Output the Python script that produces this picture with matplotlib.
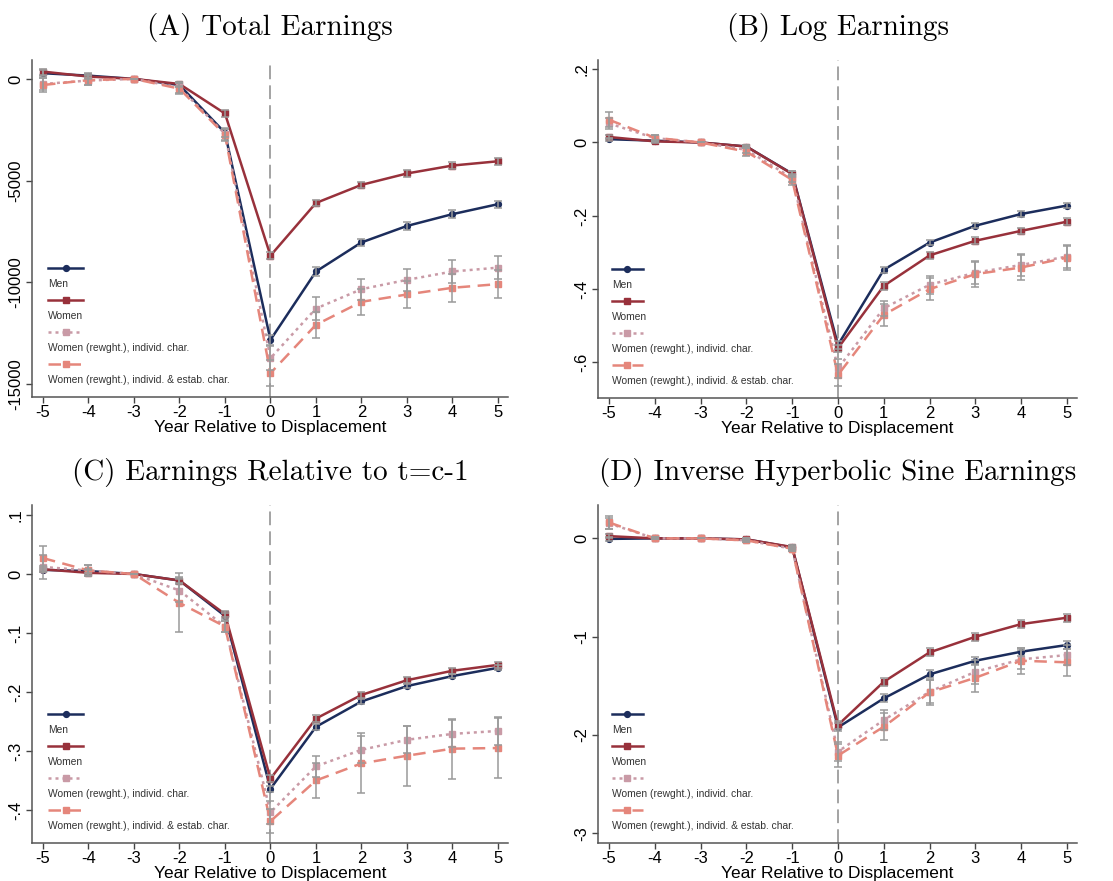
import matplotlib
matplotlib.use('Agg')
import matplotlib.pyplot as plt

# event time
years = [-5, -4, -3, -2, -1, 0, 1, 2, 3, 4, 5]

# (A) Total Earnings
a_men = [280, 160, 0, -300, -2650, -12830, -9470, -8040, -7230, -6650, -6160]
a_women = [360, 115, 0, -250, -1700, -8690, -6100, -5210, -4650, -4260, -4050]
a_indiv = [-250, -80, 0, -420, -2700, -13730, -11290, -10340, -9880, -9470, -9280]
a_estab = [-300, -60, 0, -480, -2750, -14470, -12090, -10960, -10600, -10270, -10090]
a_men_ci = [150, 120, 0, 120, 200, 230, 200, 180, 180, 180, 180]
a_women_ci = [150, 120, 0, 120, 150, 180, 160, 150, 160, 160, 180]
a_indiv_ci = [300, 200, 0, 250, 300, 600, 550, 520, 550, 560, 560]
a_estab_ci = [350, 250, 0, 280, 300, 650, 650, 650, 660, 680, 690]

# (B) Log Earnings
b_men = [0.009, 0.005, 0, -0.011, -0.085, -0.552, -0.347, -0.273, -0.227, -0.195, -0.172]
b_women = [0.015, 0.003, 0, -0.011, -0.086, -0.561, -0.391, -0.308, -0.268, -0.241, -0.216]
b_indiv = [0.052, 0.012, 0, -0.020, -0.097, -0.616, -0.452, -0.388, -0.355, -0.334, -0.311]
b_estab = [0.062, 0.013, 0, -0.025, -0.102, -0.634, -0.470, -0.400, -0.359, -0.341, -0.314]
b_men_ci = [0.004, 0.003, 0, 0.004, 0.006, 0.010, 0.008, 0.007, 0.007, 0.007, 0.007]
b_women_ci = [0.005, 0.004, 0, 0.005, 0.007, 0.010, 0.010, 0.009, 0.009, 0.009, 0.009]
b_indiv_ci = [0.015, 0.008, 0, 0.010, 0.012, 0.025, 0.020, 0.025, 0.030, 0.030, 0.030]
b_estab_ci = [0.020, 0.008, 0, 0.012, 0.014, 0.030, 0.030, 0.030, 0.035, 0.035, 0.035]

# (C) Earnings Relative to t=c-1
c_men = [0.007, 0.005, 0, -0.011, -0.071, -0.364, -0.259, -0.216, -0.190, -0.173, -0.159]
c_women = [0.008, 0.002, 0, -0.011, -0.068, -0.347, -0.245, -0.205, -0.180, -0.164, -0.154]
c_indiv = [0.012, 0.006, 0, -0.028, -0.089, -0.404, -0.326, -0.298, -0.281, -0.271, -0.266]
c_estab = [0.027, 0.006, 0, -0.049, -0.089, -0.419, -0.350, -0.321, -0.308, -0.296, -0.295]
c_men_ci = [0.004, 0.003, 0, 0.004, 0.005, 0.005, 0.005, 0.004, 0.004, 0.004, 0.004]
c_women_ci = [0.005, 0.004, 0, 0.006, 0.005, 0.006, 0.006, 0.005, 0.005, 0.005, 0.005]
c_indiv_ci = [0.020, 0.010, 0, 0.020, 0.010, 0.020, 0.018, 0.023, 0.023, 0.023, 0.023]
c_estab_ci = [0.020, 0.010, 0, 0.050, 0.010, 0.020, 0.030, 0.051, 0.051, 0.051, 0.051]

# (D) Inverse Hyperbolic Sine Earnings
d_men = [-0.005, 0, 0, -0.010, -0.092, -1.923, -1.628, -1.384, -1.245, -1.153, -1.085]
d_women = [0.023, 0, 0, -0.010, -0.088, -1.899, -1.459, -1.160, -1.001, -0.872, -0.807]
d_indiv = [0.152, 0, 0, -0.020, -0.105, -2.170, -1.848, -1.560, -1.357, -1.231, -1.187]
d_estab = [0.162, 0, 0, -0.020, -0.105, -2.210, -1.916, -1.567, -1.418, -1.245, -1.261]
d_men_ci = [0.020, 0.010, 0, 0.010, 0.020, 0.040, 0.040, 0.040, 0.040, 0.040, 0.040]
d_women_ci = [0.020, 0.010, 0, 0.010, 0.020, 0.040, 0.040, 0.040, 0.040, 0.040, 0.040]
d_indiv_ci = [0.060, 0.010, 0, 0.015, 0.020, 0.100, 0.100, 0.120, 0.120, 0.100, 0.100]
d_estab_ci = [0.070, 0.010, 0, 0.015, 0.020, 0.120, 0.140, 0.130, 0.140, 0.130, 0.140]

titles = ['(A) Total Earnings', '(B) Log Earnings',
          '(C) Earnings Relative to t=c-1', '(D) Inverse Hyperbolic Sine Earnings']
labels = ['Men', 'Women', 'Women (rewght.), individ. char.',
          'Women (rewght.), individ. & estab. char.']
yticks = [[0, -5000, -10000, -15000], [0.2, 0, -0.2, -0.4, -0.6],
          [0.1, 0, -0.1, -0.2, -0.3, -0.4], [0, -1, -2, -3]]
yticklabels = [['0', '-5000', '-10000', '-15000'], ['.2', '0', '-.2', '-.4', '-.6'],
               ['.1', '0', '-.1', '-.2', '-.3', '-.4'], ['0', '-1', '-2', '-3']]
ylims = [(-15640, 930), (-0.697, 0.225), (-0.456, 0.117), (-3.1, 0.34)]

panels = [
    [(a_men, a_men_ci), (a_women, a_women_ci), (a_indiv, a_indiv_ci), (a_estab, a_estab_ci)],
    [(b_men, b_men_ci), (b_women, b_women_ci), (b_indiv, b_indiv_ci), (b_estab, b_estab_ci)],
    [(c_men, c_men_ci), (c_women, c_women_ci), (c_indiv, c_indiv_ci), (c_estab, c_estab_ci)],
    [(d_men, d_men_ci), (d_women, d_women_ci), (d_indiv, d_indiv_ci), (d_estab, d_estab_ci)],
]

# series styles
colors = ['#1c2d5c', '#98313b', '#c99aa6', '#e5867b']
markers = ['o', 's', 's', 's']
msizes = [4.2, 5.0, 5.0, 5.0]
lstyles = ['-', '-', (0, (1.2, 1.6)), (0, (5, 3))]

plt.rcParams['font.family'] = ['Liberation Sans', 'DejaVu Sans']

fig = plt.figure(figsize=(11.13, 8.81), dpi=100)
positions = [[0.0288, 0.5494, 0.4276, 0.3825], [0.5373, 0.5482, 0.4304, 0.3837],
             [0.0288, 0.0431, 0.4276, 0.3837], [0.5373, 0.0431, 0.4304, 0.3837]]

for i in range(4):
    ax = fig.add_axes(positions[i])
    ax.axvline(0, color='#8a8a8a', lw=1.1, dashes=(9, 4), zorder=1)
    for j, (vals, ci) in enumerate(panels[i]):
        ax.plot(years, vals, color=colors[j], ls=lstyles[j], lw=1.8,
                marker=markers[j], ms=msizes[j], zorder=2 + j * 0.1)
        ax.errorbar(years, vals, yerr=ci, fmt='none', ecolor='#9a9a9a',
                    elinewidth=1.1, capsize=3, capthick=1.1, zorder=3)
    ax.set_xlim(-5.24, 5.22)
    ax.set_ylim(*ylims[i])
    ax.set_xticks(years)
    ax.set_xticklabels([str(y) for y in years])
    ax.set_yticks(yticks[i])
    ax.set_yticklabels(yticklabels[i], rotation=90, va='center')
    ax.tick_params(labelsize=12, length=4, width=1, color='#444444', pad=2)
    for s in ['top', 'right']:
        ax.spines[s].set_visible(False)
    for s in ['left', 'bottom']:
        ax.spines[s].set_color('#555555')
        ax.spines[s].set_linewidth(1.1)
    ax.set_xlabel('Year Relative to Displacement', fontsize=12.5, labelpad=0)
    ax.set_title(titles[i], family='cmr10', fontsize=21, pad=18)

    # Stata-style legend: sample line above each label
    x0 = 0.034 if i in (0, 2) else 0.029
    x1 = 0.107 if i in (0, 2) else 0.094
    for j in range(4):
        yl = 0.382 - j * 0.095
        ax.plot([x0, x1], [yl, yl], transform=ax.transAxes, color=colors[j],
                ls=lstyles[j], lw=1.8, clip_on=False, zorder=5)
        ax.plot([(x0 + x1) / 2], [yl], transform=ax.transAxes, color=colors[j],
                marker=markers[j], ms=msizes[j], clip_on=False, zorder=5)
        ax.text(x0, yl - 0.047, labels[j], transform=ax.transAxes,
                fontsize=7.4, color='#333333', va='center', ha='left')

fig.savefig('out.png', dpi=100)
